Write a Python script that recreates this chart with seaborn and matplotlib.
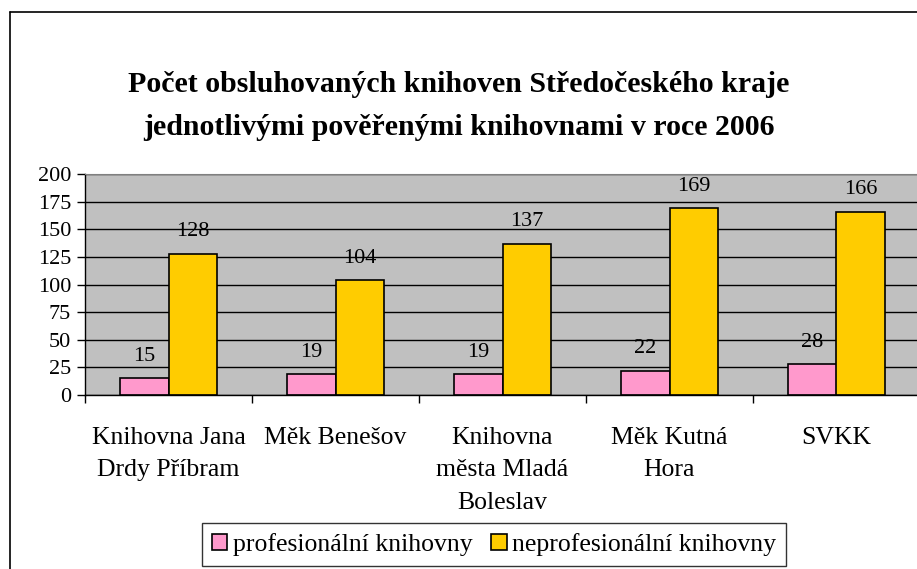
import pandas as pd
import numpy as np
import matplotlib
matplotlib.use("Agg")
import matplotlib.pyplot as plt
import seaborn as sns
from matplotlib.lines import Line2D

# data
categories = ["Knihovna Jana\nDrdy Příbram", "Měk Benešov", "Knihovna\nměsta Mladá\nBoleslav",
              "Měk Kutná\nHora", "SVKK"]
profesionalni = [15, 19, 19, 22, 28]
neprofesionalni = [128, 104, 137, 169, 166]
series_names = ["profesionální knihovny", "neprofesionální knihovny"]
yticks = [0, 25, 50, 75, 100, 125, 150, 175, 200]

df = pd.DataFrame({
    "kategorie": categories * 2,
    "hodnota": profesionalni + neprofesionalni,
    "typ": [series_names[0]] * 5 + [series_names[1]] * 5,
})

sns.set_style("white")
plt.rcParams["font.family"] = ["Liberation Serif", "DejaVu Serif"]
plt.rcParams["text.color"] = "black"
plt.rcParams["xtick.color"] = "black"
plt.rcParams["ytick.color"] = "black"

fig = plt.figure(figsize=(9.17, 5.69), dpi=100)
ax = fig.add_axes([85 / 917, 1 - 395 / 569, 835 / 917, 221 / 569])
ax.set_facecolor("#C0C0C0")

sns.barplot(data=df, x="kategorie", y="hodnota", hue="typ",
            palette=["#FF99CC", "#FFCC00"], saturation=1, edgecolor="black", linewidth=1.2,
            width=0.58, gap=0, ax=ax, legend=True)

# value labels
for cont in ax.containers:
    ax.bar_label(cont, padding=9, fontsize=16)

ax.set_ylim(0, 200)
ax.set_xlim(-0.5, 4.5)
ax.set_yticks(yticks)
ax.set_yticklabels([str(v) for v in yticks], fontsize=16)
ax.yaxis.grid(True, color="black", linewidth=1)
ax.set_axisbelow(True)
ax.tick_params(axis="y", direction="out", length=6, width=1, left=True, pad=4)

# category ticks between groups
ax.set_xticks(range(len(categories)))
ax.set_xticklabels(categories, fontsize=18.5, linespacing=1.62, va="top")
ax.set_xticks(np.arange(-0.5, 5, 1), minor=True)
ax.tick_params(axis="x", which="major", length=0, pad=23)
ax.tick_params(axis="x", which="minor", direction="out", length=6, width=1, bottom=True)
ax.set_xlabel("")
ax.set_ylabel("")

for s in ["left", "bottom"]:
    ax.spines[s].set_color("black")
    ax.spines[s].set_linewidth(1)
ax.spines["top"].set_color("#808080")
ax.spines["right"].set_visible(False)

# title
fig.text(0.5, 1 - 85 / 569, "Počet obsluhovaných knihoven Středočeského kraje",
         ha="center", va="center", fontsize=21.5, fontweight="bold")
fig.text(0.5, 1 - 128 / 569, "jednotlivými pověřenými knihovnami v roce 2006",
         ha="center", va="center", fontsize=21.5, fontweight="bold")

# legend
h, l = ax.get_legend_handles_labels()
ax.get_legend().remove()
leg = fig.legend(h, l, loc="center", bbox_to_anchor=(494 / 917, 1 - 544.5 / 569), ncol=2,
                 fontsize=18.5, frameon=True, fancybox=False, edgecolor="black",
                 handlelength=0.6, handleheight=0.6, handletextpad=0.2, columnspacing=0.75,
                 borderpad=0.4, borderaxespad=0)
leg.get_frame().set_linewidth(1)

# chart area border (cropped)
fig.add_artist(Line2D([10 / 917, 10 / 917], [0, 1 - 12 / 569], color="black", linewidth=1.2,
                      transform=fig.transFigure))
fig.add_artist(Line2D([10 / 917, 1], [1 - 12 / 569, 1 - 12 / 569], color="black", linewidth=1.2,
                      transform=fig.transFigure))

fig.savefig("out.png", dpi=100)
